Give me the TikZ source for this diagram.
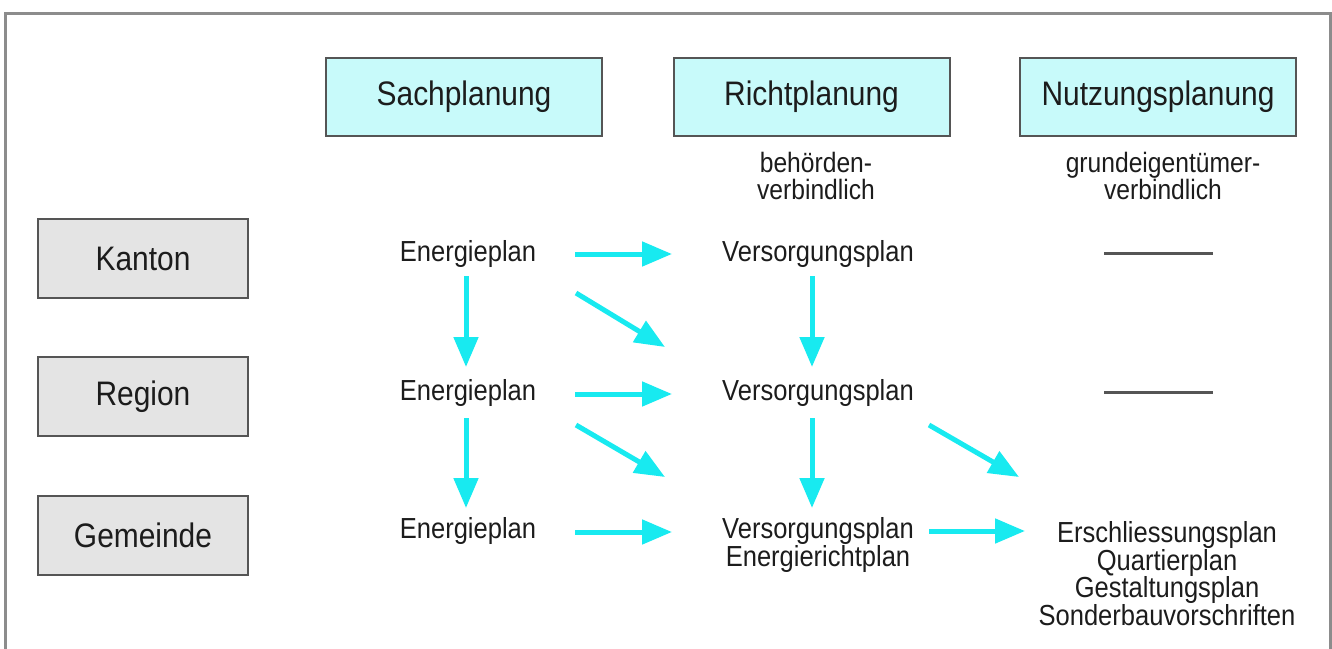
\documentclass[tikz,border=0pt]{standalone}
\usepackage{fontspec}
\setmainfont{Liberation Sans}[FakeStretch=0.88]
\usetikzlibrary{arrows.meta}
\definecolor{arrcyan}{HTML}{18EAF0}
\definecolor{headfill}{HTML}{C8FAFA}
\definecolor{rowfill}{HTML}{E4E4E4}
\definecolor{boxline}{HTML}{555555}
\definecolor{framegray}{HTML}{8C8C8C}
\definecolor{txt}{HTML}{1C1C1C}
\tikzset{
  headbox/.style={draw=boxline, line width=1pt, fill=headfill, minimum width=138pt, minimum height=39pt, inner sep=0pt, text=txt, font=\fontsize{17}{20}\selectfont},
  rowbox/.style={draw=boxline, line width=1pt, fill=rowfill, minimum width=105pt, minimum height=39.5pt, inner sep=0pt, text=txt, font=\fontsize{17}{20}\selectfont},
  plan/.style={inner sep=0pt, text=txt, align=center, font=\fontsize{14.5}{14}\selectfont},
  note/.style={inner sep=0pt, text=txt, align=center, font=\fontsize{14}{13.2}\selectfont},
  list/.style={inner sep=0pt, text=txt, align=center, font=\fontsize{14.5}{13.75}\selectfont},
  arr/.style={draw=arrcyan, line width=2.5pt, -{Triangle[length=15pt,width=12pt]}},
  nodash/.style={draw=boxline, line width=1.5pt}
}
\begin{document}
\begin{tikzpicture}[x=0.5pt,y=-0.5pt]
\useasboundingbox (0,0) rectangle (1332,648);
\draw[framegray, line width=1.5pt] (5,13) rectangle (1330,700);
% headers
\node[headbox] (h1) at (464,97) {Sachplanung};
\node[headbox] (h2) at (811.5,97) {Richtplanung};
\node[headbox] (h3) at (1158,97) {Nutzungsplanung};
\node[note] (b1) at (816,176) {behörden-\\verbindlich};
\node[note] (b2) at (1163,176) {grundeigentümer-\\verbindlich};
% rows
\node[rowbox] (l1) at (143,258.5) {Kanton};
\node[rowbox] (l2) at (143,396.5) {Region};
\node[rowbox] (l3) at (143,535) {Gemeinde};
% plans
\node[plan] (e1) at (468,254) {Energieplan};
\node[plan] (e2) at (468,393) {Energieplan};
\node[plan] (e3) at (468,531) {Energieplan};
\node[plan] (v1) at (818,254) {Versorgungsplan};
\node[plan] (v2) at (818,393) {Versorgungsplan};
\node[plan] (v3) at (818,545) {Versorgungsplan\\Energierichtplan};
\node[list] (n3) at (1167,573.5) {Erschliessungsplan\\Quartierplan\\Gestaltungsplan\\Sonderbauvorschriften};
% dashes
\coordinate (d1a) at (1104,253); \coordinate (d1b) at (1213,253);
\coordinate (d2a) at (1104,392); \coordinate (d2b) at (1213,392);
\draw[nodash] (d1a) -- (d1b);
\draw[nodash] (d2a) -- (d2b);
% arrows
\draw[arr] ([shift={(107,0)}]e1.center) -- ([shift={(-146,0)}]v1.center);
\draw[arr] ([shift={(108,39)}]e1.center) -- ([shift={(-153,-46)}]v2.center);
\draw[arr] ([shift={(-2,22)}]e1.center) -- ([shift={(-2,-26)}]e2.center);
\draw[arr] ([shift={(-6,22)}]v1.center) -- ([shift={(-6,-26)}]v2.center);
\draw[arr] ([shift={(107,1)}]e2.center) -- ([shift={(-146,1)}]v2.center);
\draw[arr] ([shift={(108,32)}]e2.center) -- ([shift={(-153,-68)}]v3.center);
\draw[arr] ([shift={(-2,25)}]e2.center) -- ([shift={(-2,-23)}]e3.center);
\draw[arr] ([shift={(-6,25)}]v2.center) -- ([shift={(-6,-37)}]v3.center);
\draw[arr] ([shift={(111,32)}]v2.center) -- ([shift={(-148,-96.5)}]n3.center);
\draw[arr] ([shift={(107,1)}]e3.center) -- ([shift={(-146,-13)}]v3.center);
\draw[arr] ([shift={(111,-14)}]v3.center) -- ([shift={(-142,-42.5)}]n3.center);
\end{tikzpicture}
\end{document}
